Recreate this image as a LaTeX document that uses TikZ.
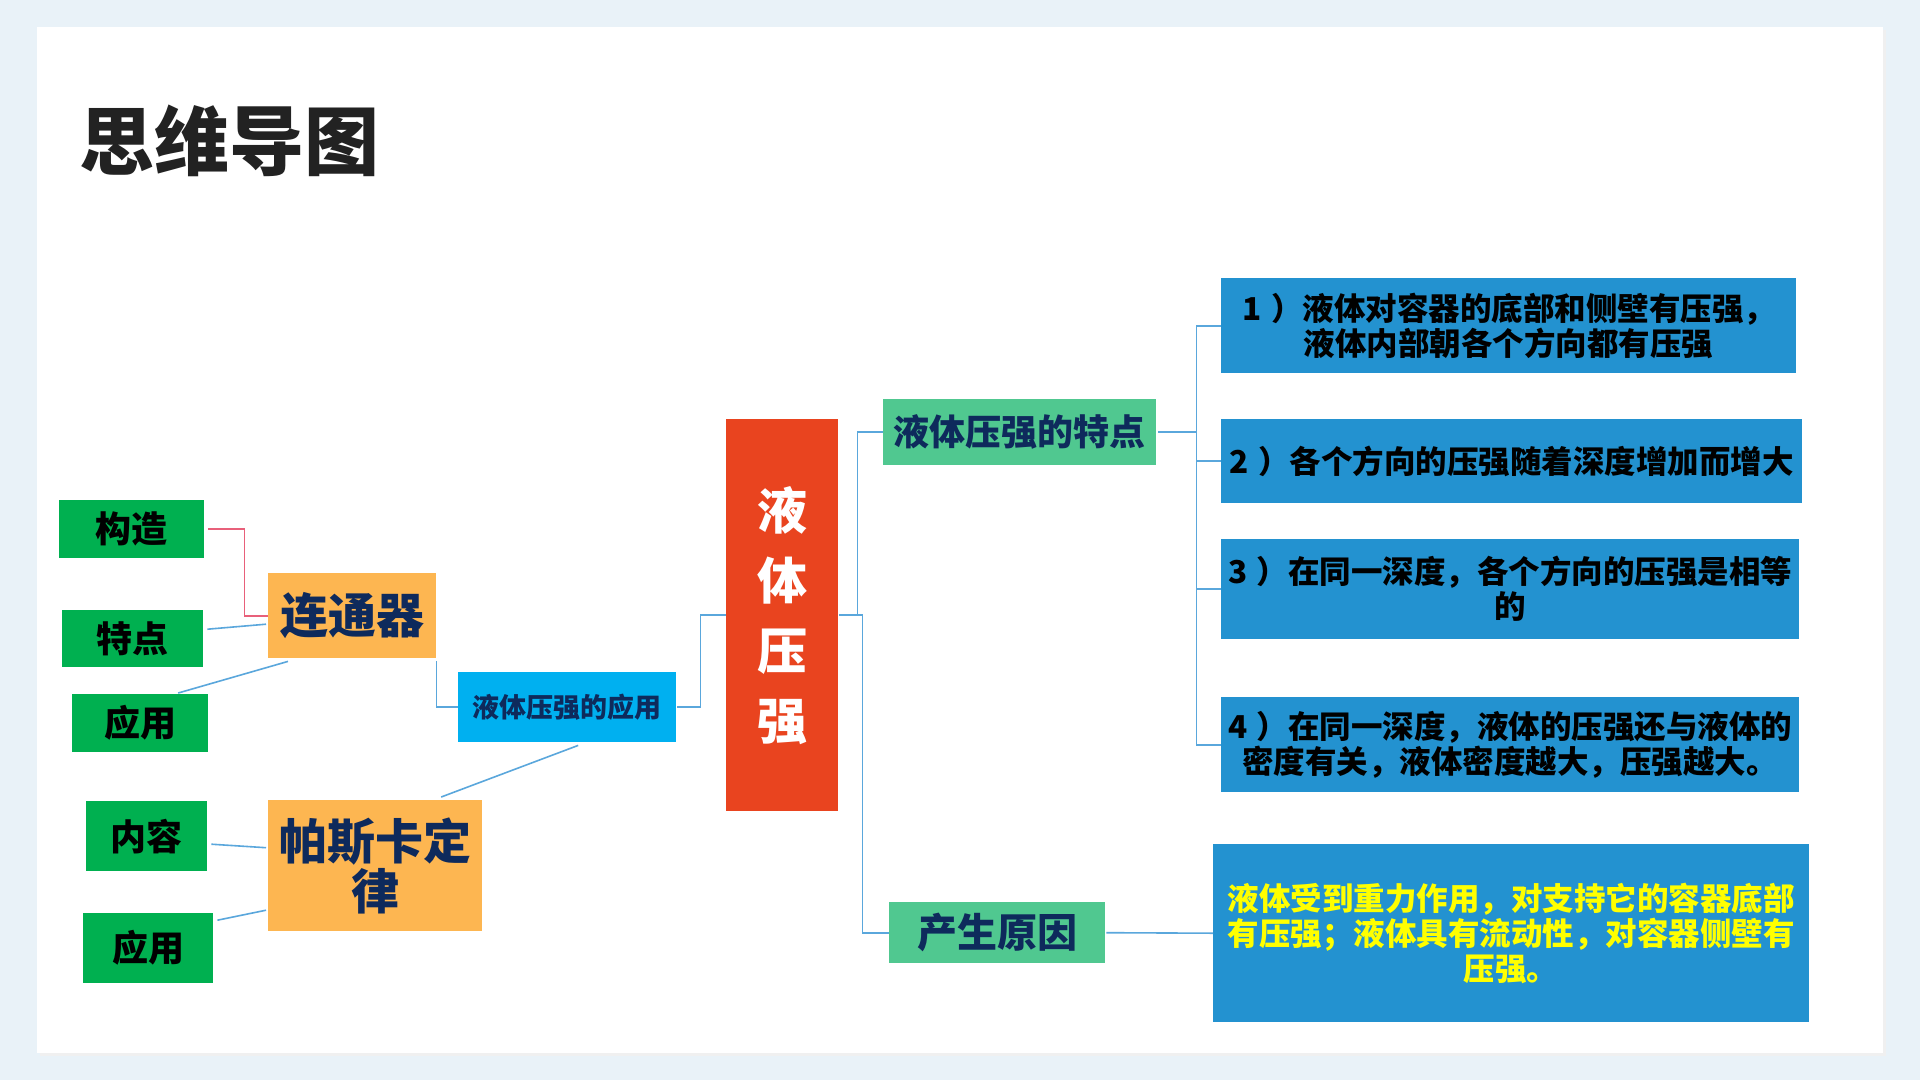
\documentclass[tikz,border=0pt]{standalone}
\usepackage{fontspec}
\setmainfont{Noto Sans CJK SC}[BoldFont={Noto Sans CJK SC Black}]
\usetikzlibrary{calc}
\definecolor{bgout}{HTML}{E9F2F8}
\definecolor{cgreen}{HTML}{00B050}
\definecolor{corange}{HTML}{FDB651}
\definecolor{ccyan}{HTML}{00B0F0}
\definecolor{cred}{HTML}{E9441F}
\definecolor{cmint}{HTML}{50C890}
\definecolor{cblue}{HTML}{2392D0}
\definecolor{navy}{HTML}{0E2A5C}
\definecolor{lnk}{HTML}{5AA7DC}
\definecolor{pinkln}{HTML}{E8607A}
\definecolor{titlec}{HTML}{222222}
\definecolor{ytext}{HTML}{FFFF00}
\newcommand{\numgap}{\hspace{0.3em}}
\begin{document}
\begin{tikzpicture}[x=1pt,y=-1pt,
 base/.style={anchor=north west, inner sep=0pt, align=center},
 leaf/.style={base, fill=cgreen, text=black, font=\bfseries\fontsize{36}{40}\selectfont},
 orangebox/.style={base, fill=corange, text=navy, font=\bfseries\fontsize{48}{52}\selectfont},
 cyanbox/.style={base, fill=ccyan, text=navy, font=\bfseries\fontsize{27}{30}\selectfont},
 redbox/.style={base, fill=cred, text=white, font=\bfseries\fontsize{50}{70}\selectfont},
 mintbox/.style={base, fill=cmint, text=navy},
 bluebox/.style={base, fill=cblue, text=black, font=\bfseries\fontsize{31.5}{35}\selectfont},
 link/.style={draw=lnk, line width=1.6pt},
 pinklink/.style={draw=pinkln, line width=1.6pt},
]
\useasboundingbox (0,0) rectangle (1920,1080);
\fill[bgout] (0,0) rectangle (1920,1080);
\fill[black!6] (40,30) rectangle (1886,1056);
\fill[white] (37,27) rectangle (1883,1053);

\node[anchor=west, text=titlec, font=\bfseries\fontsize{75}{78}\selectfont] (title) at (76,141) {思维导图};

% left leaves
\node[leaf, minimum width=145, minimum height=58] (gouzao) at (59,500) {构造};
\node[leaf, minimum width=141, minimum height=57] (tedian) at (62,610) {特点};
\node[leaf, minimum width=136, minimum height=58] (yy1) at (72,694) {应用};
\node[leaf, minimum width=121, minimum height=70] (neirong) at (86,801) {内容};
\node[leaf, minimum width=130, minimum height=70] (yy2) at (83,913) {应用};

\node[orangebox, minimum width=168, minimum height=85] (ltq) at (268,573) {连通器};
\node[orangebox, minimum width=214, minimum height=131] (pascal) at (268,800) {帕斯卡定\\[-2pt]律};
\node[cyanbox, minimum width=218, minimum height=70] (yyapp) at (458,672) {液体压强的应用};
\node[redbox, minimum width=112, minimum height=392] (red) at (726,419) {液\\体\\压\\强};
\node[mintbox, minimum width=273, minimum height=66, font=\bfseries\fontsize{36}{40}\selectfont] (tedian2) at (883,399) {液体压强的特点};
\node[mintbox, minimum width=216, minimum height=61, font=\bfseries\fontsize{40}{44}\selectfont] (yuanyin) at (889,902) {产生原因};

\node[bluebox, minimum width=575, minimum height=95] (b1) at (1221,278) {1\numgap）液体对容器的底部和侧壁有压强，\\液体内部朝各个方向都有压强};
\node[bluebox, minimum width=581, minimum height=84] (b2) at (1221,419) {2\numgap）各个方向的压强随着深度增加而增大};
\node[bluebox, minimum width=578, minimum height=100] (b3) at (1221,539) {3\numgap）在同一深度，各个方向的压强是相等\\的};
\node[bluebox, minimum width=578, minimum height=95] (b4) at (1221,697) {4\numgap）在同一深度，液体的压强还与液体的\\密度有关，液体密度越大，压强越大。};
\node[bluebox, text=ytext, minimum width=596, minimum height=178] (b5) at (1213,844) {液体受到重力作用，对支持它的容器底部\\有压强；液体具有流动性，对容器侧壁有\\压强。};

% connectors, left part
\draw[pinklink] ([xshift=4pt]gouzao.east) -- ++(36,0) |- (ltq.west);
\draw[link] ([xshift=4pt,yshift=9.5pt]tedian.east) -- ([xshift=-2pt,yshift=-8.5pt]ltq.west);
\draw[link] ([xshift=38pt,yshift=1pt]yy1.north) -- ([xshift=20pt,yshift=-3pt]ltq.south west);
\draw[link] ([yshift=-3pt]ltq.south east) |- (yyapp.west);
\draw[link] ([xshift=66pt,yshift=3pt]pascal.north) -- ([xshift=11pt,yshift=-3pt]yyapp.south);
\draw[link] ([xshift=4pt,yshift=-8pt]neirong.east) -- ([xshift=-2pt,yshift=18pt]pascal.west);
\draw[link] ([xshift=4pt,yshift=28pt]yy2.east) -- ([xshift=-2pt,yshift=-44.5pt]pascal.west);

% centre
\draw[link] ([xshift=1pt]yyapp.east) -- ++(23,0) |- (red.west);
\draw[link] ([xshift=1pt]red.east) -- ++(18,0) |- (tedian2.west);
\draw[link] ([xshift=1pt]red.east) -- ++(23,0) |- (yuanyin.west);

% right part
\draw[link] ([xshift=2pt]tedian2.east) -- ++(38,0) coordinate (tk);
\draw[link] (tk) |- (b1.west);
\draw[link] (tk) |- (b2.west);
\draw[link] (tk) |- (b3.west);
\draw[link] (tk) |- (b4.west);
\draw[link] ([xshift=1pt]yuanyin.east) -- (b5.west);
\end{tikzpicture}
\end{document}
